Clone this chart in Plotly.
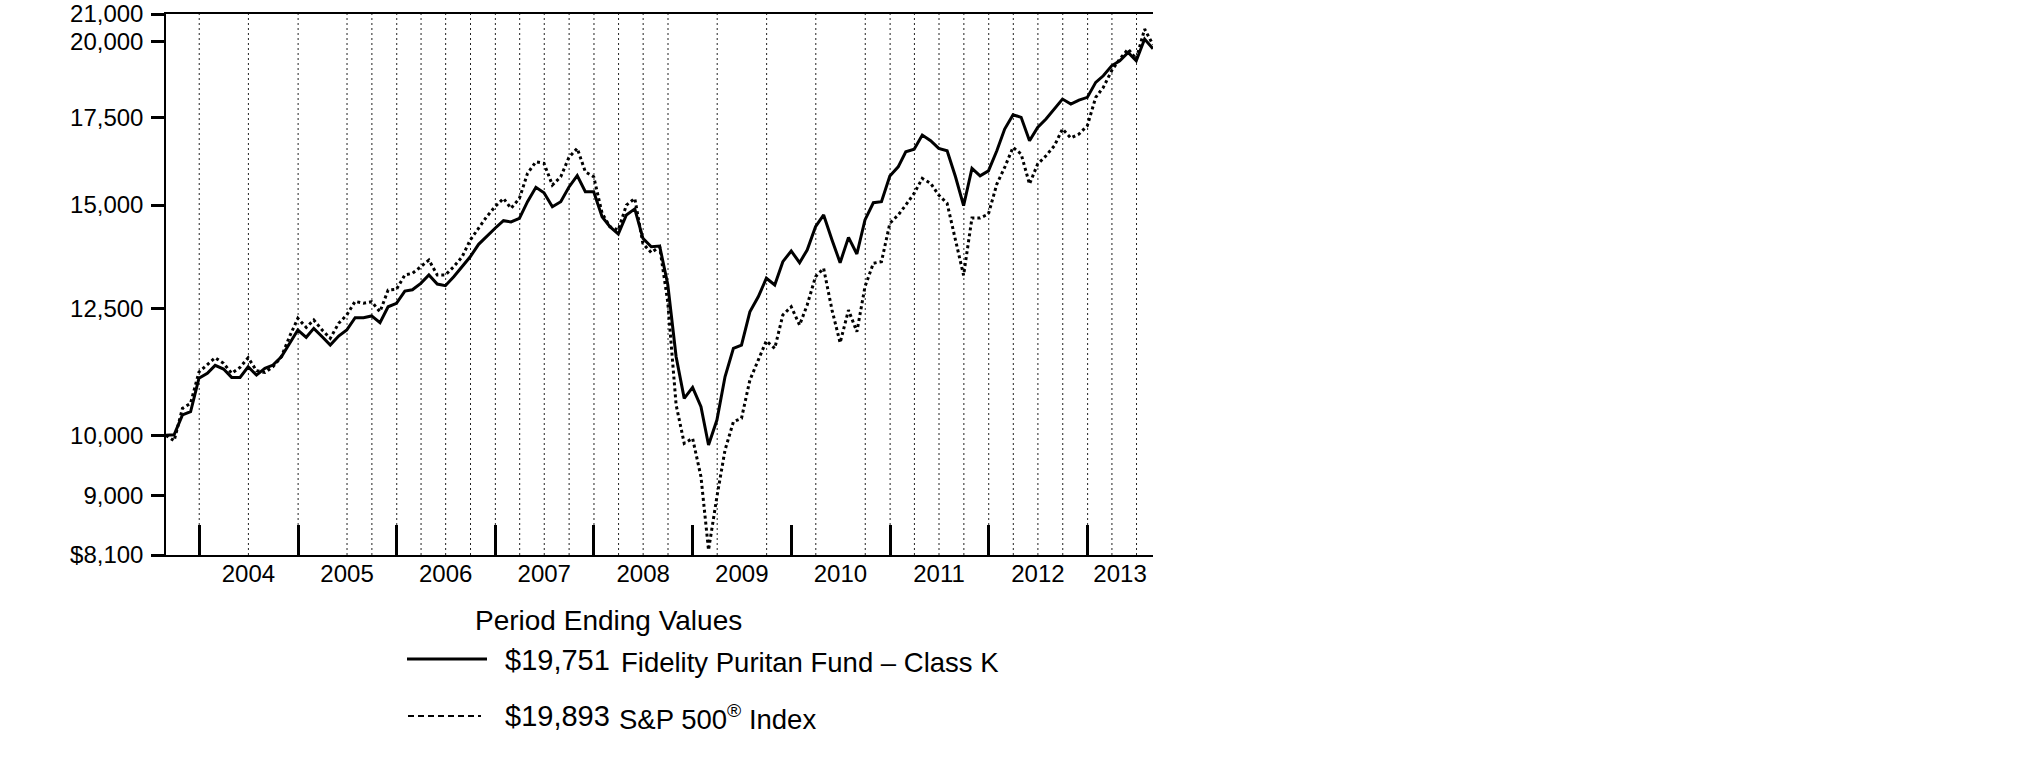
import math
import calendar
import plotly.graph_objects as go

# ---------------- data ----------------
def month_end(y, m):
    return f"{y:04d}-{m:02d}-{calendar.monthrange(y, m)[1]:02d}"

period_ends = []
_y, _m = 2003, 8
for _ in range(121):
    period_ends.append(month_end(_y, _m))
    _m += 1
    if _m > 12:
        _m = 1
        _y += 1

fund_values = [
    10000, 10010, 10365, 10424, 11060, 11154, 11312, 11238, 11074, 11074,
    11284, 11120, 11252, 11318, 11484, 11757, 12037, 11884, 12073, 11896,
    11722, 11911, 12037, 12302, 12300, 12340, 12194, 12541, 12617, 12892,
    12922, 13069, 13262, 13053, 13014, 13223, 13457, 13695, 13998, 14204,
    14400, 14594, 14560, 14655, 15090, 15476, 15330, 14958, 15090, 15480,
    15800, 15356, 15356, 14697, 14440, 14254, 14741, 14900, 14150, 13938,
    13956, 13050, 11484, 10673, 10882, 10517, 9830, 10273, 11086, 11655,
    11722, 12431, 12763, 13186, 13030, 13577, 13835, 13553, 13859, 14440,
    14741, 14104, 13553, 14171, 13762, 14612, 15062, 15090, 15785, 16046,
    16478, 16548, 16969, 16800, 16576, 16506, 15767, 14983, 16002, 15793,
    15932, 16506, 17149, 17586, 17506, 16800, 17200, 17453, 17763, 18078,
    17920, 18047, 18133, 18619, 18836, 19170, 19340, 19629, 19340, 20093,
    19751,
]

index_values = [
    10000, 9905, 10487, 10580, 11180, 11318, 11464, 11352, 11154, 11271,
    11464, 11205, 11170, 11284, 11484, 11896, 12289, 12093, 12252, 12037,
    11863, 12181, 12360, 12660, 12620, 12652, 12431, 12915, 12931, 13262,
    13302, 13457, 13617, 13262, 13262, 13457, 13695, 14104, 14400, 14697,
    14958, 15177, 14915, 15177, 15861, 16188, 16143, 15539, 15767, 16310,
    16576, 15906, 15767, 14786, 14440, 14355, 15000, 15177, 14022, 13793,
    13938, 12650, 10550, 9860, 9947, 9297, 8171, 8976, 9744, 10242,
    10304, 11022, 11417, 11810, 11655, 12360, 12541, 12144, 12579, 13223,
    13418, 12468, 11771, 12468, 12000, 12991, 13539, 13577, 14525, 14741,
    15000, 15313, 15722, 15585, 15268, 15046, 14104, 13254, 14664, 14664,
    14767, 15565, 16030, 16605, 16410, 15565, 16123, 16362, 16652, 17149,
    16880, 16999, 17249, 18133, 18455, 19003, 19401, 19742, 19401, 20451,
    19893,
]

ytick_vals = [8100, 9000, 10000, 12500, 15000, 17500, 20000, 21000]
ytick_text = ["$8,100", "9,000", "10,000", "12,500", "15,000", "17,500", "20,000", "21,000"]
ygrid_vals = [9000, 10000, 17500]

year_tick_dates = [f"{yr}-01-01" for yr in range(2004, 2014)]
year_label_dates = [f"{yr}-07-01" for yr in range(2004, 2013)] + ["2013-05-01"]
year_labels = [str(yr) for yr in range(2004, 2014)]

xgrid_dates = [
    "2004-01-01", "2004-07-01",
    "2005-01-01", "2005-07-01", "2005-10-01",
    "2006-01-01", "2006-04-01", "2006-07-01", "2006-10-01",
    "2007-01-01", "2007-04-01", "2007-07-01", "2007-10-01",
    "2008-01-01", "2008-04-01", "2008-07-01", "2008-10-01",
    "2009-04-01", "2009-10-01",
    "2010-04-01", "2010-10-01",
    "2011-01-01", "2011-04-01", "2011-07-01", "2011-10-01",
    "2012-01-01", "2012-04-01", "2012-07-01", "2012-10-01",
    "2013-01-01", "2013-04-01", "2013-07-01",
]

legend_title = "Period Ending Values"
fund_end_label = "$19,751"
fund_name = "Fidelity Puritan Fund \u2013 Class K"
index_end_label = "$19,893"
index_name = "S&P 500<sup>\u00ae</sup> Index"

# ---------------- layout geometry (page pixels) ----------------
W, H = 2025, 761
PL, PR, PT, PB = 166, 1153, 14, 555
FONT = "Liberation Sans, Arial, Helvetica, sans-serif"


def px(xp):
    return (xp - PL) / (PR - PL)


def py(yp):
    return (PB - yp) / (PB - PT)


fig = go.Figure()
fig.add_trace(go.Scatter(
    x=period_ends, y=index_values, mode="lines", name="S&P 500 Index",
    line=dict(color="black", width=3, dash="dot"), showlegend=False,
))
fig.add_trace(go.Scatter(
    x=period_ends, y=fund_values, mode="lines", name="Fidelity Puritan Fund - Class K",
    line=dict(color="black", width=3), showlegend=False,
))

shapes = []
grid_style = dict(color="#222222", width=1, dash="2px,3px")
for d in xgrid_dates:
    shapes.append(dict(type="line", xref="x", yref="paper", x0=d, x1=d, y0=0, y1=1,
                       line=grid_style, layer="below"))
for v in ygrid_vals:
    shapes.append(dict(type="line", xref="paper", yref="y", x0=0, x1=1,
                       y0=math.log10(v), y1=math.log10(v), line=grid_style, layer="below"))

# legend samples
shapes.append(dict(type="line", xref="paper", yref="paper",
                   x0=px(407), x1=px(487), y0=py(659), y1=py(659),
                   line=dict(color="black", width=3)))
shapes.append(dict(type="line", xref="paper", yref="paper",
                   x0=px(408), x1=px(481), y0=py(716), y1=py(716),
                   line=dict(color="black", width=2, dash="6px,4px")))

annotations = [
    dict(text=legend_title, xref="paper", yref="paper", x=px(608.7), y=py(620),
         xanchor="center", yanchor="middle", showarrow=False,
         font=dict(family=FONT, size=28, color="black")),
    dict(text=fund_end_label, xref="paper", yref="paper", x=px(503), y=py(660),
         xanchor="left", yanchor="middle", showarrow=False,
         font=dict(family=FONT, size=29, color="black")),
    dict(text=fund_name, xref="paper", yref="paper", x=px(619), y=py(662),
         xanchor="left", yanchor="middle", showarrow=False,
         font=dict(family=FONT, size=27.5, color="black")),
    dict(text=index_end_label, xref="paper", yref="paper", x=px(503), y=py(716),
         xanchor="left", yanchor="middle", showarrow=False,
         font=dict(family=FONT, size=29, color="black")),
    dict(text=index_name, xref="paper", yref="paper", x=px(617), y=py(717),
         xanchor="left", yanchor="middle", showarrow=False,
         font=dict(family=FONT, size=27.5, color="black")),
]

fig.update_layout(
    width=W, height=H,
    margin=dict(l=PL, r=W - PR, t=PT, b=H - PB, pad=0),
    paper_bgcolor="white", plot_bgcolor="white",
    font=dict(family=FONT, size=24, color="black"),
    shapes=shapes, annotations=annotations,
    showlegend=False,
    xaxis=dict(
        type="date", range=[period_ends[0], period_ends[-1]],
        tickmode="array", tickvals=year_label_dates, ticktext=year_labels,
        ticks="", showgrid=False, zeroline=False,
        showline=True, linecolor="black", linewidth=1.5, mirror=True,
        tickfont=dict(family=FONT, size=24, color="black"),
        ticklabelstandoff=-4,
        minor=dict(tickmode="array", tickvals=year_tick_dates, ticks="inside",
                   ticklen=30, tickwidth=3, tickcolor="black", showgrid=False),
        automargin=False,
    ),
    yaxis=dict(
        type="log", range=[math.log10(8100), math.log10(21000)],
        tickmode="array", tickvals=ytick_vals, ticktext=ytick_text,
        ticks="outside", ticklen=13, tickwidth=2.5, tickcolor="black",
        showgrid=False, zeroline=False,
        showline=True, linecolor="black", linewidth=1.5,
        tickfont=dict(family=FONT, size=24, color="black"),
        ticklabelstandoff=3, ticklabeloverflow="allow",
        automargin=False,
    ),
)

# remove the page's default body margin so the figure sits at the window origin
fig.write_html(
    "out.html",
    config={"displayModeBar": False},
    post_script="document.body.style.margin='0';",
)
